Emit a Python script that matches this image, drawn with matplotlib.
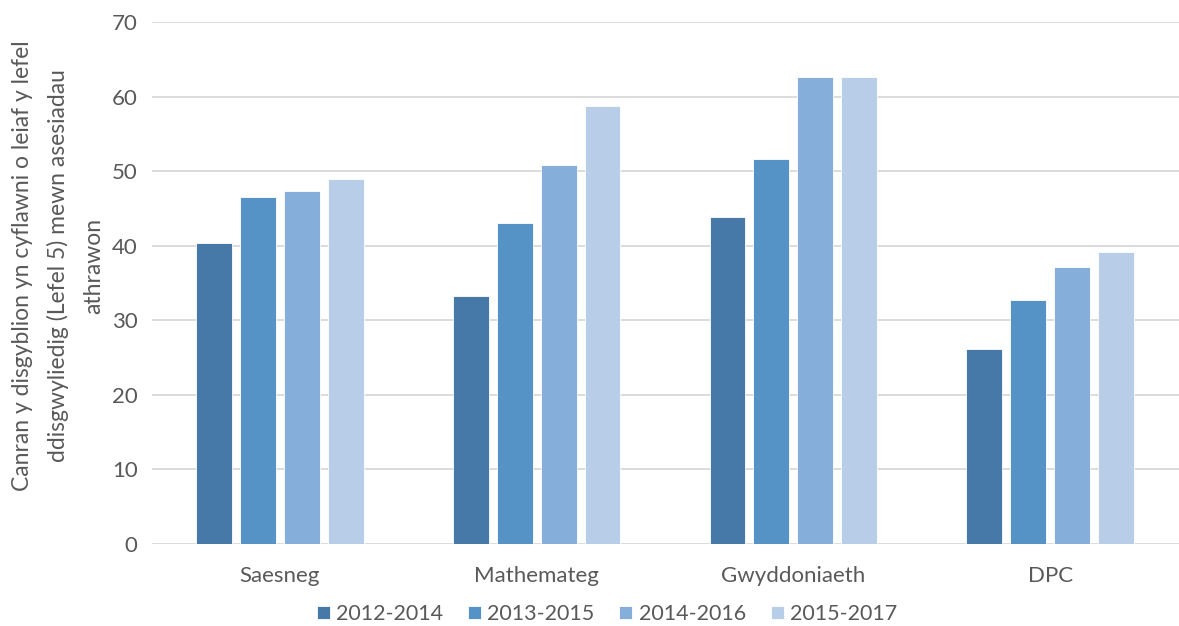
import matplotlib.pyplot as plt
import numpy as np

# categories and series values
subjects = ["Saesneg", "Mathemateg", "Gwyddoniaeth", "DPC"]
periods = ["2012-2014", "2013-2015", "2014-2016", "2015-2017"]
vals_2012_2014 = [40.3, 33.3, 43.8, 26.2]
vals_2013_2015 = [46.5, 43.0, 51.6, 32.7]
vals_2014_2016 = [47.4, 50.8, 62.6, 37.2]
vals_2015_2017 = [49.0, 58.7, 62.6, 39.1]
series = [vals_2012_2014, vals_2013_2015, vals_2014_2016, vals_2015_2017]
colours = ["#4678A8", "#5592C6", "#85AEDB", "#B8CDE8"]

ylabel = ("Canran y disgyblion yn cyflawni o leiaf y lefel\n"
          "ddisgwyliedig (Lefel 5) mewn asesiadau\n"
          "athrawon")

plt.rcParams['font.family'] = ['Lato', 'DejaVu Sans']
text_col = "#595959"
fs = 16

fig = plt.figure(figsize=(11.79, 6.26), dpi=100)
ax = fig.add_axes([151.5 / 1179, 82 / 626, 1027 / 1179, 522 / 626])

x = np.arange(len(subjects))
step = 0.171
width = 0.14
for i, (vals, col, lab) in enumerate(zip(series, colours, periods)):
    ax.bar(x + (i - 1.5) * step, vals, width, color=col, label=lab, zorder=3,
           edgecolor="white", linewidth=0.6)

ax.set_xlim(-0.5, len(subjects) - 0.5)
ax.set_ylim(0, 70)
ax.set_yticks(range(0, 71, 10))
ax.set_xticks(x)
ax.set_xticklabels(subjects)
ax.grid(axis="y", color="#D9D9D9", linewidth=1.3, zorder=0)
for s in ax.spines.values():
    s.set_visible(False)
ax.tick_params(axis="both", length=0, labelsize=fs, labelcolor=text_col)
ax.tick_params(axis="y", pad=10)
ax.tick_params(axis="x", pad=16)

fig.text(58 / 1179, (626 - 266) / 626, ylabel, rotation=90, ha="center",
         va="center", fontsize=16.5, color=text_col, linespacing=1.8)

fig.legend(loc="center", bbox_to_anchor=(607 / 1179, 12 / 626), ncol=4,
           frameon=False, fontsize=15.5, handlelength=0.6, handleheight=0.6,
           handletextpad=0.3, columnspacing=1.15, labelcolor=text_col)

fig.savefig("out.png", dpi=100)
